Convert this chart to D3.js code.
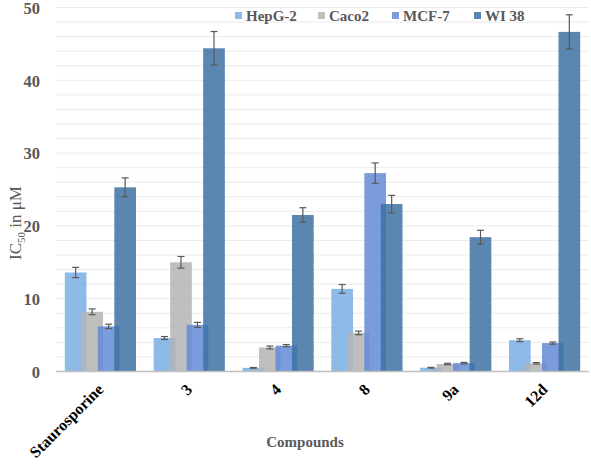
<!DOCTYPE html>
<html><head><meta charset="utf-8">
<script src="https://cdn.jsdelivr.net/npm/d3@7"></script>
<style>body{margin:0;background:#fff}svg{display:block}</style>
</head><body>
<svg id="c" width="591" height="473"></svg>
<script>
const categories = ["Staurosporine", "3", "4", "8", "9a", "12d"];
const seriesNames = ["HepG-2", "Caco2", "MCF-7", "WI 38"];
const hepg2 = [13.6, 4.6, 0.5, 11.35, 0.52, 4.3];
const caco2 = [8.2, 15.0, 3.3, 5.3, 1.03, 1.13];
const mcf7 = [6.2, 6.4, 3.55, 27.25, 1.15, 3.9];
const wi38 = [25.3, 44.4, 21.5, 23.0, 18.45, 46.65];
const hepg2Err = [0.7, 0.2, 0.05, 0.6, 0.05, 0.2];
const caco2Err = [0.4, 0.8, 0.2, 0.25, 0.1, 0.1];
const mcf7Err = [0.3, 0.35, 0.15, 1.4, 0.1, 0.15];
const wi38Err = [1.3, 2.3, 1.0, 1.2, 0.95, 2.35];
const yTicks = [0, 10, 20, 30, 40, 50];
const colors = ["#7AAEE3", "#B4B4B4", "#648BD6", "#3D71A2"];

const values = [hepg2, caco2, mcf7, wi38];
const errors = [hepg2Err, caco2Err, mcf7Err, wi38Err];

const svg = d3.select("#c");
const L = 56, R = 589, T = 7.5, B = 371.5;
const x = d3.scaleBand().domain(categories).range([L, R]).paddingInner(0).paddingOuter(0);
const y = d3.scaleLinear().domain([0, 50]).range([B, T]);
const barW = 21.7, step = 16.5;
const sub = d3.scaleLinear().domain([0, 3]).range([-(3*step+barW)/2, -(3*step+barW)/2 + 3*step]);

// gridlines
svg.append("g").selectAll("line").data(d3.range(2, 51, 2)).join("line")
  .attr("x1", L).attr("x2", R).attr("y1", d => y(d)).attr("y2", d => y(d))
  .attr("stroke", "#EBEBEB").attr("stroke-width", 1);

// bars
values.forEach((vals, s) => {
  const g = svg.append("g");
  g.selectAll("rect").data(vals).join("rect")
    .attr("x", (d, i) => x(categories[i]) + x.bandwidth()/2 + sub(s))
    .attr("y", d => y(d))
    .attr("width", barW)
    .attr("height", d => y(0) - y(d))
    .attr("fill", colors[s]).attr("fill-opacity", 0.85);
});
// error bars
values.forEach((vals, s) => {
  const g = svg.append("g").attr("stroke", "#595959").attr("stroke-width", 1.2);
  vals.forEach((v, i) => {
    const cx = x(categories[i]) + x.bandwidth()/2 + sub(s) + barW/2;
    const e = errors[s][i];
    g.append("line").attr("x1", cx).attr("x2", cx).attr("y1", y(v+e)).attr("y2", y(v-e));
    g.append("line").attr("x1", cx-3.5).attr("x2", cx+3.5).attr("y1", y(v+e)).attr("y2", y(v+e));
    g.append("line").attr("x1", cx-3.5).attr("x2", cx+3.5).attr("y1", y(v-e)).attr("y2", y(v-e));
  });
});

// x axis line
svg.append("line").attr("x1", L).attr("x2", R).attr("y1", B).attr("y2", B)
  .attr("stroke", "#BFBFBF").attr("stroke-width", 1.5);

// y tick labels
const yAxis = d3.axisLeft(y).tickValues(yTicks).tickSize(0).tickPadding(0);
const ya = svg.append("g").attr("transform", `translate(40,0)`).call(yAxis);
ya.select(".domain").remove();
ya.selectAll("text").attr("font-family", "Liberation Serif").attr("font-weight", "bold")
  .attr("font-size", 16.5).attr("fill", "#595959").attr("dy", "0.35em");

// x tick labels
const xAxis = d3.axisBottom(x).tickSize(0).tickPadding(0);
const xa = svg.append("g").attr("transform", `translate(0,${B})`).call(xAxis);
xa.select(".domain").remove();
xa.selectAll("text")
  .attr("font-family", "Liberation Serif").attr("font-weight", "bold")
  .attr("font-size", 16).attr("fill", "#000")
  .attr("text-anchor", "end").attr("dy", null).attr("y", 0)
  .attr("transform", "translate(4,19) rotate(-45)");

// axis titles
const yt = svg.append("text").attr("transform", "translate(21,223) rotate(-90)")
  .attr("text-anchor", "middle").attr("font-family", "Liberation Serif")
  .attr("font-size", 17).attr("fill", "#595959");
yt.append("tspan").text("IC");
yt.append("tspan").text("50").attr("font-size", 11).attr("dy", 4);
yt.append("tspan").text(" in μM").attr("dy", -4);

svg.append("text").attr("x", 305).attr("y", 447).attr("text-anchor", "middle")
  .attr("font-family", "Liberation Serif").attr("font-weight", "bold")
  .attr("font-size", 15).attr("fill", "#595959").text("Compounds");

// legend
const legX = [235, 318, 392, 474];
const lg = svg.append("g");
seriesNames.forEach((n, i) => {
  lg.append("rect").attr("x", legX[i]).attr("y", 12).attr("width", 7).attr("height", 7)
    .attr("fill", colors[i]).attr("fill-opacity", 0.85);
  lg.append("text").attr("x", legX[i] + 11).attr("y", 21)
    .attr("font-family", "Liberation Serif").attr("font-weight", "bold")
    .attr("font-size", 15).attr("fill", "#595959").text(n);
});
</script>
</body></html>
